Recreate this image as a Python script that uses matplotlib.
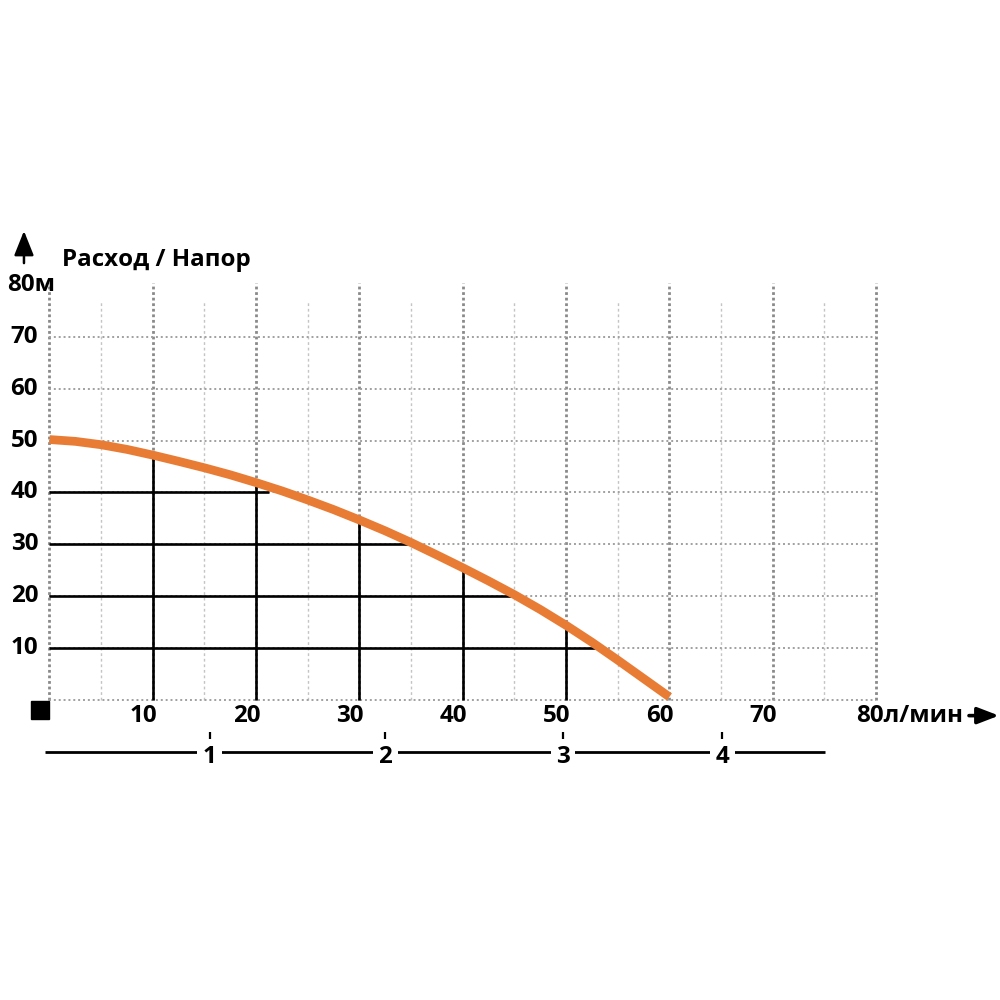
import numpy as np
import matplotlib.pyplot as plt

plt.rcParams['font.family'] = ['Open Sans', 'DejaVu Sans']

# Pump curve: flow (l/min) vs head (m)
flow = [0, 2.5, 5, 7.5, 10, 12.5, 15, 17.5, 20, 22.5, 25, 27.5, 30,
        32.5, 35, 37.5, 40, 42.5, 45, 47.5, 50, 52.5, 55, 57.5, 60]
head = [50.2, 49.85, 49.2, 48.3, 47.2, 46.0, 44.75, 43.4, 41.9, 40.3, 38.55, 36.7, 34.7,
        32.6, 30.35, 27.95, 25.5, 22.95, 20.3, 17.45, 14.4, 11.15, 7.7, 4.15, 0.6]

# solid helper lines: verticals up to the curve, horizontals across to it
v_marks = [10, 20, 30, 40, 50]
h_marks = [10, 20, 30, 40]
h_ends = [53.2, 45.3, 35.0, 21.2]   # flow where curve meets each head level

x_ticks = [10, 20, 30, 40, 50, 60, 70]
y_ticks = [10, 20, 30, 40, 50, 60, 70]

# second scale (m3/h) under the axis
m3_labels = ['1', '2', '3', '4']
m3_pos = [15.5, 32.5, 49.7, 65.1]

orange = '#E97C35'

fig = plt.figure(figsize=(10, 10), dpi=100)
ax = fig.add_axes([0, 0, 1, 1])
ax.set_xlim(-4.79, 92.0)
ax.set_ylim(-57.8, 134.9)
ax.axis('off')

# dotted grid
for x in range(0, 81, 10):
    ax.vlines(x, 0, 80.4, colors='#8a8a8a', lw=2.0, linestyles=(0, (1, 1)), zorder=1)
for x in range(5, 80, 10):
    ax.vlines(x, 0, 77.0, colors='#c4c4c4', lw=1.0, linestyles=(0, (2, 2)), zorder=1)
for y in [0] + y_ticks:
    ax.hlines(y, 0, 80, colors='#a0a0a0', lw=1.4, linestyles=(0, (1, 1.5)), zorder=1)

# solid black lines
for x in v_marks:
    top = head[flow.index(x)]
    ax.vlines(x, 0, top, colors='black', lw=1.9, zorder=2)
for y, xe in zip(h_marks, h_ends):
    ax.hlines(y, 0, xe, colors='black', lw=1.9, zorder=2)

# curve
ax.plot(flow, head, color=orange, lw=6.3, solid_capstyle='butt', solid_joinstyle='round', zorder=3)

# origin square
ax.plot([-0.95], [-1.9], marker='s', ms=13.5, color='black', zorder=4)

fs = 17.4
# y labels
for y in y_ticks:
    ax.text(-1.1, y, str(y), ha='right', va='center', fontsize=fs, fontweight='bold')
ax.text(-4.1, 80.0, '80м', ha='left', va='center', fontsize=fs, fontweight='bold')
ax.text(1.2, 84.8, 'Расход / Напор', ha='left', va='center', fontsize=fs, fontweight='bold')
ax.annotate('', xy=(-2.47, 90.4), xytext=(-2.47, 84.2),
            arrowprops=dict(arrowstyle='-|>,head_length=0.75,head_width=0.3', lw=1.8,
                            color='black', mutation_scale=20, shrinkA=0, shrinkB=0))

# x labels
for x in x_ticks:
    ax.text(x + 0.4, -3.1, str(x), ha='right', va='center', fontsize=fs, fontweight='bold')
ax.text(78.1, -3.1, '80л/мин', ha='left', va='center', fontsize=fs, fontweight='bold')
ax.annotate('', xy=(91.9, -3.0), xytext=(89.0, -3.0),
            arrowprops=dict(arrowstyle='-|>,head_length=0.65,head_width=0.25', lw=2.6,
                            color='black', mutation_scale=20, shrinkA=0, shrinkB=0))

# second scale
ax.hlines(-10.0, -0.44, 75.1, colors='black', lw=2.0, zorder=2)
for lab, p in zip(m3_labels, m3_pos):
    ax.vlines(p, -6.2, -8.0, colors='black', lw=1.6)
    ax.text(p, -10.9, lab, ha='center', va='center', fontsize=fs, fontweight='bold',
            bbox=dict(facecolor='white', edgecolor='none', pad=4), zorder=5)

fig.savefig('out.png', dpi=100, facecolor='white')
